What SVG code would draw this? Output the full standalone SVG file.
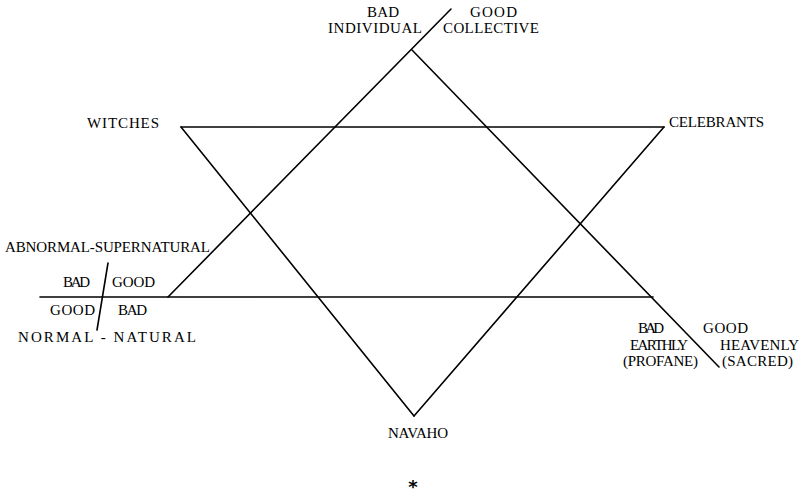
<svg xmlns="http://www.w3.org/2000/svg" width="805" height="498" viewBox="0 0 805 498">
<style>
.ln{stroke:#000;stroke-width:1.6;fill:none;stroke-linecap:round}
text{font-family:"Liberation Serif","DejaVu Serif",serif;font-size:15px;fill:#000}
</style>
<rect width="805" height="498" fill="#fff"/>
<g id="connectors">
<line class="ln" x1="451" y1="9" x2="168" y2="297"/>
<line class="ln" x1="412" y1="50" x2="719" y2="367"/>
<line class="ln" x1="40" y1="297" x2="653" y2="297"/>
<line class="ln" x1="181" y1="127" x2="664" y2="127"/>
<line class="ln" x1="181" y1="127" x2="414" y2="416"/>
<line class="ln" x1="664" y1="127" x2="414" y2="416"/>
<line class="ln" x1="108" y1="263" x2="97" y2="330"/>
</g>
<g id="top-axis">
<text x="367" y="17" textLength="32" lengthAdjust="spacing">BAD</text>
<text x="328" y="33" textLength="94" lengthAdjust="spacing">INDIVIDUAL</text>
<text x="470" y="17" textLength="47" lengthAdjust="spacing">GOOD</text>
<text x="443" y="33" textLength="96" lengthAdjust="spacing">COLLECTIVE</text>
</g>
<g id="witches"><text x="87" y="128" textLength="72" lengthAdjust="spacing">WITCHES</text></g>
<g id="celebrants"><text x="669" y="127" textLength="95" lengthAdjust="spacing">CELEBRANTS</text></g>
<g id="left-axis">
<text x="5" y="252" textLength="205" lengthAdjust="spacing">ABNORMAL-SUPERNATURAL</text>
<text x="63" y="287" textLength="27" lengthAdjust="spacing">BAD</text>
<text x="112" y="287" textLength="43" lengthAdjust="spacing">GOOD</text>
<text x="50" y="315" textLength="45" lengthAdjust="spacing">GOOD</text>
<text x="118" y="315" textLength="29" lengthAdjust="spacing">BAD</text>
<text x="18" y="342" textLength="178" lengthAdjust="spacing">NORMAL - NATURAL</text>
</g>
<g id="right-axis">
<text x="638" y="333" textLength="26" lengthAdjust="spacing">BAD</text>
<text x="703" y="333" textLength="45" lengthAdjust="spacing">GOOD</text>
<text x="630" y="350" textLength="58" lengthAdjust="spacing">EARTHLY</text>
<text x="720" y="350" textLength="79" lengthAdjust="spacing">HEAVENLY</text>
<text x="623" y="366" textLength="75" lengthAdjust="spacing">(PROFANE)</text>
<text x="722" y="366" textLength="71" lengthAdjust="spacing">(SACRED)</text>
</g>
<g id="navaho"><text x="388" y="438" textLength="60" lengthAdjust="spacing">NAVAHO</text></g>
<g id="asterisk"><text x="413" y="493" text-anchor="middle" style="font-family:'DejaVu Sans',sans-serif;font-size:18px;font-weight:bold">*</text></g>
</svg>
